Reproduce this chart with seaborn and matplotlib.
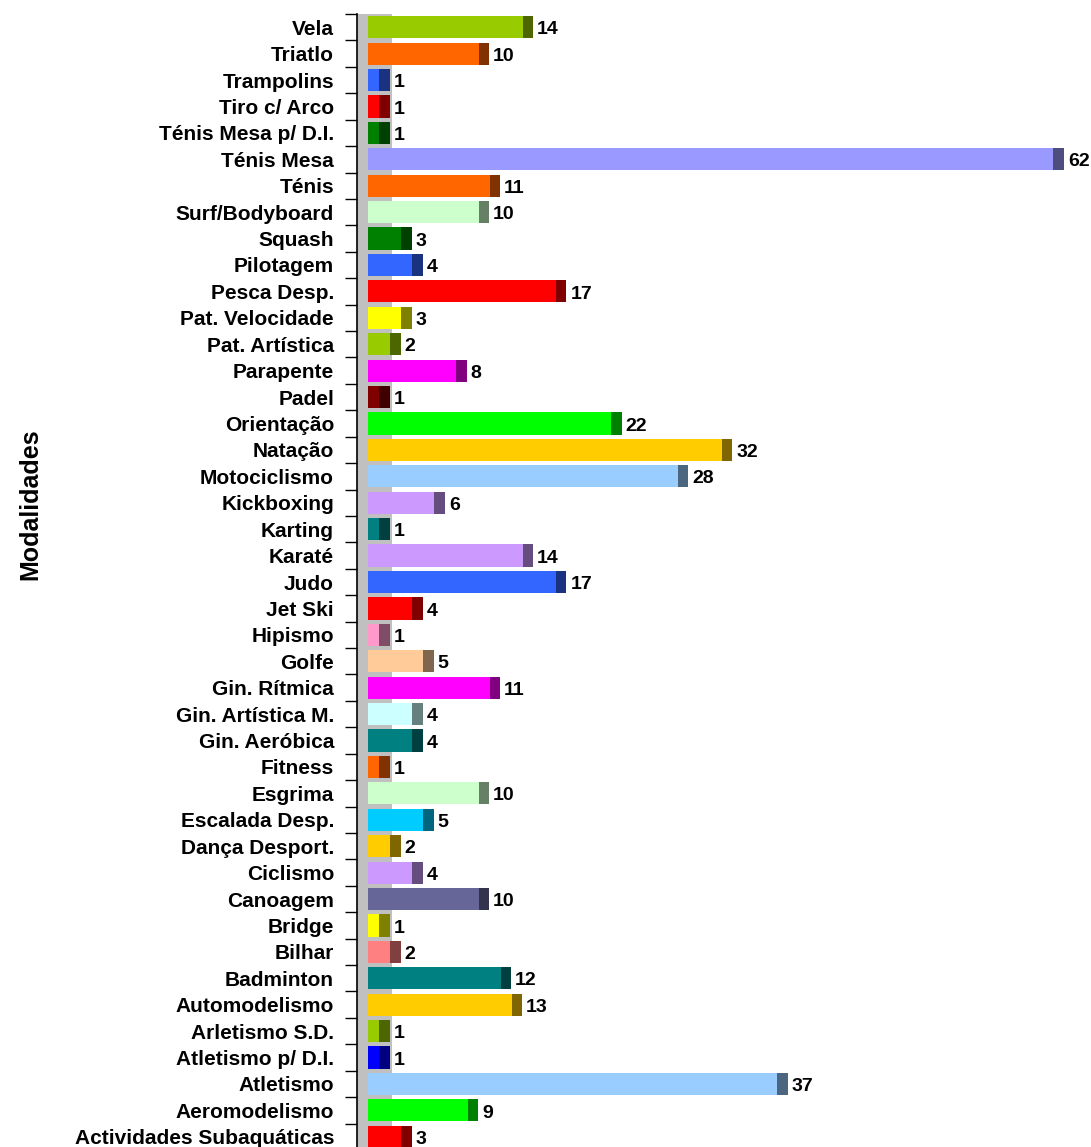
import numpy as np
import pandas as pd
import matplotlib
matplotlib.use("Agg")
import matplotlib.pyplot as plt
import matplotlib.colors as mcolors
from matplotlib.ticker import FixedLocator
import seaborn as sns

# ── Data (top to bottom, as drawn) ───────────────────────────────────────────
modalidades = [
    "Vela", "Triatlo", "Trampolins", "Tiro c/ Arco", "Ténis Mesa p/ D.I.",
    "Ténis Mesa", "Ténis", "Surf/Bodyboard", "Squash", "Pilotagem",
    "Pesca Desp.", "Pat. Velocidade", "Pat. Artística", "Parapente", "Padel",
    "Orientação", "Natação", "Motociclismo", "Kickboxing", "Karting",
    "Karaté", "Judo", "Jet Ski", "Hipismo", "Golfe",
    "Gin. Rítmica", "Gin. Artística M.", "Gin. Aeróbica", "Fitness", "Esgrima",
    "Escalada Desp.", "Dança Desport.", "Ciclismo", "Canoagem", "Bridge",
    "Bilhar", "Badminton", "Automodelismo", "Arletismo S.D.", "Atletismo p/ D.I.",
    "Atletismo", "Aeromodelismo", "Actividades Subaquáticas",
]
valores = [
    14, 10, 1, 1, 1,
    62, 11, 10, 3, 4,
    17, 3, 2, 8, 1,
    22, 32, 28, 6, 1,
    14, 17, 4, 1, 5,
    11, 4, 4, 1, 10,
    5, 2, 4, 10, 1,
    2, 12, 13, 1, 1,
    37, 9, 3,
]
cores = [
    "#99CC00", "#FF6600", "#3366FF", "#FF0000", "#008000",
    "#9999FF", "#FF6600", "#CCFFCC", "#008000", "#3366FF",
    "#FF0000", "#FFFF00", "#99CC00", "#FF00FF", "#800000",
    "#00FF00", "#FFCC00", "#99CCFF", "#CC99FF", "#008080",
    "#CC99FF", "#3366FF", "#FF0000", "#FF99CC", "#FFCC99",
    "#FF00FF", "#CCFFFF", "#008080", "#FF6600", "#CCFFCC",
    "#00CCFF", "#FFCC00", "#CC99FF", "#666699", "#FFFF00",
    "#FF8080", "#008080", "#FFCC00", "#99CC00", "#0000FF",
    "#99CCFF", "#00FF00", "#FF0000",
]

df = pd.DataFrame({"modalidade": modalidades, "valor": valores})
sombras = [tuple(c * 0.5 for c in mcolors.to_rgb(h)) for h in cores]

plt.rcParams["font.family"] = ["Liberation Sans", "DejaVu Sans"]
plt.rcParams["font.weight"] = "bold"

fig = plt.figure(figsize=(10.91, 11.47), dpi=100)
ax = fig.add_axes([357 / 1091, -3 / 1147, 734 / 1091, 1136 / 1147])

# grey back wall
ax.axvspan(-1.0, 2.2, color="#C0C0C0", zorder=0, lw=0)

sns.barplot(data=df, x="valor", y="modalidade", hue="modalidade",
            order=modalidades, palette=cores, legend=False, orient="h",
            width=0.84, saturation=1, ax=ax, zorder=2, linewidth=0)

# darker side face for the 3D look
pos = np.arange(len(modalidades))
ax.barh(pos, 0.95, left=df["valor"], height=0.84, color=sombras,
        lw=0, zorder=2)

for y, v in zip(pos, df["valor"]):
    ax.text(v + 1.3, y + 0.1, str(v), ha="left", va="center",
            fontsize=14, fontweight="bold", color="black")

ax.set_xlim(-1.0, 65.4)
ax.set_ylim(len(modalidades) - 0.5, -0.5)

ax.set_xlabel("")
ax.set_ylabel("")
ax.xaxis.set_visible(False)
for s in ["top", "right", "bottom"]:
    ax.spines[s].set_visible(False)
ax.spines["left"].set_linewidth(1.2)

ax.yaxis.set_minor_locator(FixedLocator(np.arange(len(modalidades) + 1) - 0.5))
ax.tick_params(axis="y", which="major", length=0, pad=16.5, labelsize=15)
ax.tick_params(axis="y", which="minor", length=8.6, width=1.0)
for lbl in ax.get_yticklabels():
    lbl.set_fontweight("bold")

fig.text(0.028, 0.56, "Modalidades", rotation=90, ha="center", va="center",
         fontsize=18, fontweight="bold")

fig.savefig("out.png", dpi=100)
